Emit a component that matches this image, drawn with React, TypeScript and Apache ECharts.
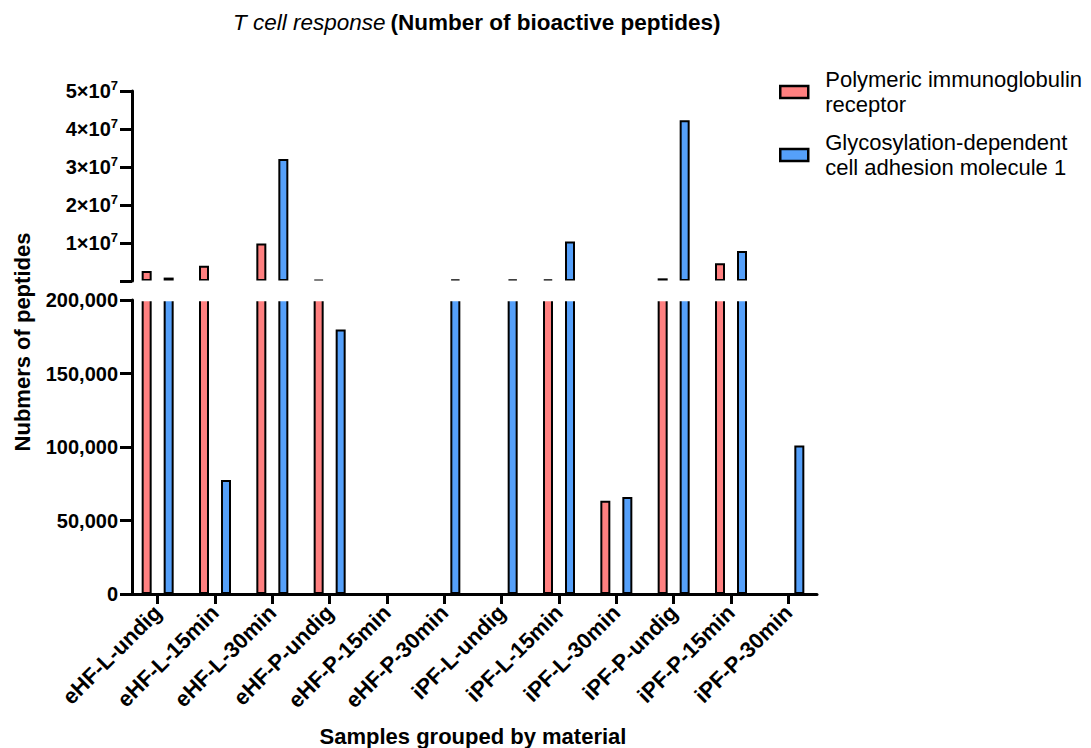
import React, { useEffect, useRef } from "react";
import * as echarts from "echarts";

const categories = [
  "eHF-L-undig", "eHF-L-15min", "eHF-L-30min", "eHF-P-undig", "eHF-P-15min", "eHF-P-30min",
  "iPF-L-undig", "iPF-L-15min", "iPF-L-30min", "iPF-P-undig", "iPF-P-15min", "iPF-P-30min",
];
const seriesNames = ["Polymeric immunoglobulin receptor", "Glycosylation-dependent cell adhesion molecule 1"];
const legendLabels = ["Polymeric immunoglobulin\nreceptor", "Glycosylation-dependent\ncell adhesion molecule 1"];
const pigrValues = [2.6e6, 4.0e6, 9.9e6, 3.0e5, 0, 0, 0, 4.0e5, 63500, 7.0e5, 4.7e6, 0];
const glycamValues = [9.0e5, 77500, 3.21e7, 180000, 0, 4.0e5, 4.0e5, 1.04e7, 66000, 4.23e7, 7.9e6, 101000];
const breakValue = 200000;
const upperMax = 5e7;
const upperInterval = 1e7;
const lowerInterval = 50000;
const titleItalic = "T cell response";
const titleBold = "(Number of bioactive peptides)";
const yTitle = "Nubmers of peptides";
const xTitle = "Samples grouped by material";

const FONT = "'Liberation Sans', Arial, sans-serif";
const RED = "#FF8080";
const BLUE = "#55A0FA";

export default function App() {
  const ref = useRef<HTMLDivElement>(null);
  useEffect(() => {
    if (!ref.current) return;
    const chart = echarts.init(ref.current, null, { renderer: "svg" });
    const colors = [RED, BLUE];
    const valueSets = [pigrValues, glycamValues];
    const barCommon = (i: number) => ({
      type: "bar",
      name: seriesNames[i],
      barWidth: 10,
      barGap: "120%",
      itemStyle: { color: colors[i], borderColor: "#000", borderWidth: 2 },
    });
    const series: any[] = [];
    for (let i = 0; i < 2; i++) {
      series.push({
        ...barCommon(i),
        xAxisIndex: 0,
        yAxisIndex: 0,
        data: valueSets[i].map((v) => (v > breakValue ? v : "-")),
      });
    }
    for (let i = 0; i < 2; i++) {
      series.push({
        ...barCommon(i),
        xAxisIndex: 1,
        yAxisIndex: 1,
        data: valueSets[i].slice(),
      });
    }
    const axisLine = { show: true, lineStyle: { color: "#000", width: 3 } };
    const yTick = { show: true, length: 12, lineStyle: { color: "#000", width: 3 } };
    const option: any = {
      animation: false,
      textStyle: { fontFamily: FONT },
      title: {
        text: `{i|${titleItalic}} {b|${titleBold}}`,
        left: 228,
        top: 6,
        textStyle: {
          fontWeight: "normal",
          rich: {
            i: { fontStyle: "italic", fontWeight: "normal", fontSize: 22.5, color: "#000", fontFamily: FONT },
            b: { fontWeight: "bold", fontSize: 22.5, color: "#000", fontFamily: FONT },
          },
        },
      },
      legend: {
        orient: "vertical",
        left: 779,
        top: 67,
        padding: 0,
        itemWidth: 28,
        itemHeight: 12,
        itemGap: 13,
        icon: "rect",
        data: seriesNames,
        formatter: (name: string) => legendLabels[seriesNames.indexOf(name)],
        itemStyle: { borderWidth: 2.5, borderColor: "#000" },
        textStyle: { fontSize: 22, lineHeight: 25, color: "#000", fontFamily: FONT, padding: [0, 0, 0, 12] },
      },
      grid: [
        { left: 129, right: 274, top: 91, height: 190 },
        { left: 129, right: 274, top: 300, height: 294 },
      ],
      xAxis: [
        { type: "category", gridIndex: 0, data: categories, show: false },
        {
          type: "category",
          gridIndex: 1,
          data: categories,
          axisLine,
          axisTick: { show: true, alignWithLabel: true, length: 10, lineStyle: { color: "#000", width: 3 } },
          axisLabel: { interval: 0, rotate: 45, margin: 15, fontSize: 22, fontWeight: "bold", color: "#000", fontFamily: FONT },
        },
      ],
      yAxis: [
        {
          type: "value",
          gridIndex: 0,
          min: 0,
          max: upperMax,
          interval: upperInterval,
          offset: -3,
          splitLine: { show: false },
          axisLine,
          axisTick: yTick,
          axisLabel: {
            margin: 14,
            color: "#000",
            formatter: (v: number) => (v === 0 ? "" : `{n|${v / 1e7}×10}{s|7}`),
            rich: {
              n: { fontSize: 20, fontWeight: "bold", color: "#000", fontFamily: FONT },
              s: { fontSize: 13, fontWeight: "bold", color: "#000", fontFamily: FONT, padding: [0, 0, 12, 0] },
            },
          },
        },
        {
          type: "value",
          gridIndex: 1,
          min: 0,
          max: breakValue,
          interval: lowerInterval,
          offset: -3,
          splitLine: { show: false },
          axisLine,
          axisTick: yTick,
          axisLabel: {
            margin: 14,
            fontSize: 20,
            fontWeight: "bold",
            color: "#000",
            fontFamily: FONT,
            formatter: (v: number) => v.toLocaleString("en-US"),
          },
        },
      ],
      graphic: [
        { type: "rect", z: 100, shape: { x: 134, y: 280.5, width: 700, height: 20.8 }, style: { fill: "#fff" } },
        {
          type: "text",
          x: 22,
          y: 342,
          rotation: Math.PI / 2,
          style: { text: yTitle, font: `bold 22px ${FONT}`, textAlign: "center", textVerticalAlign: "middle", align: "center", verticalAlign: "middle", fill: "#000" },
        },
        {
          type: "text",
          x: 473,
          y: 736,
          style: { text: xTitle, font: `bold 22px ${FONT}`, textAlign: "center", textVerticalAlign: "middle", align: "center", verticalAlign: "middle", fill: "#000" },
        },
      ],
      series,
    };
    chart.setOption(option);
    return () => chart.dispose();
  }, []);
  return <div ref={ref} style={{ position: "fixed", left: 0, top: 0, width: 1091, height: 748, background: "#fff" }} />;
}
